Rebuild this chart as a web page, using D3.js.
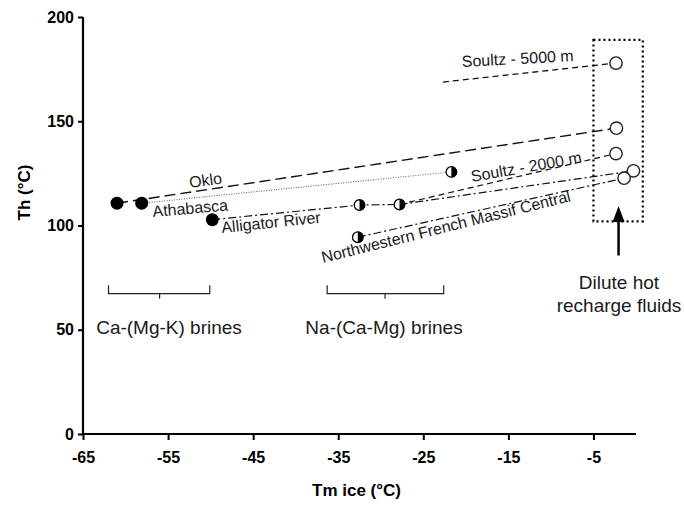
<!DOCTYPE html>
<html><head><meta charset="utf-8">
<script src="https://cdn.jsdelivr.net/npm/d3@7"></script>
<style>body{margin:0;background:#fff}svg{display:block}text{font-family:"Liberation Sans",Arial,sans-serif}</style>
</head><body>
<script>
// ---- data ----
const xTicks = [-65, -55, -45, -35, -25, -15, -5];
const yTicks = [0, 50, 100, 150, 200];
// Ca-(Mg-K) brines (filled)
const caX = [-61.0, -58.1, -49.8];
const caY = [110.7, 110.7, 102.8];
// Na-(Ca-Mg) brines (half filled)
const naX = [-21.7, -32.5, -27.8, -32.7];
const naY = [125.7, 109.8, 110.1, 94.4];
// dilute hot recharge fluids (open)
const diX = [-2.35, -2.3, -2.35, -0.3, -1.4];
const diY = [177.9, 146.7, 134.5, 126.2, 122.7];
// trend lines
const lineLong   = [[-61.0, 110.7], [-2.3, 146.7]];
const lineOklo   = [[-58.1, 110.7], [-21.7, 125.7]];
const lineAllig  = [[-49.8, 102.8], [-32.5, 109.8], [-27.8, 110.1]];
const lineS2000  = [[-27.8, 110.1], [-2.35, 134.5]];
const lineDD     = [[-27.8, 110.1], [-0.3, 126.2]];
const lineNW     = [[-32.7, 94.4], [-1.4, 122.7]];
const lineS5000  = [[-22.7, 168.8], [-2.35, 177.9]];
// box and brackets
const boxX = [-5.0, 0.8], boxY = [102.0, 189.0];
const arrowX = -2.05, arrowY = [85.6, 109.4];
const bracketCa = [-62.0, -56.0, -50.1];
const bracketNa = [-36.3, -29.5, -22.6];
const bracketY = [71.3, 67.3, 64.9];

const W = 684, H = 508;
const svg = d3.select("body").append("svg").attr("width", W).attr("height", H);
const x = d3.scaleLinear().domain([-65, 0]).range([83, 636]);
const y = d3.scaleLinear().domain([0, 200]).range([434, 17]);

// axes
const xAxis = d3.axisBottom(x).tickValues(xTicks).tickSize(6).tickFormat(d => String(d));
const yAxis = d3.axisLeft(y).tickValues(yTicks).tickSize(5).tickFormat(d => String(d));
const gx = svg.append("g").attr("transform", `translate(0,${y(0)})`).call(xAxis);
const gy = svg.append("g").attr("transform", `translate(${x(-65)},0)`).call(yAxis);
[gx, gy].forEach(g => {
  g.select(".domain").attr("stroke", "#000").attr("stroke-width", 2.2);
  g.selectAll(".tick line").attr("stroke", "#000").attr("stroke-width", 2);
  g.selectAll(".tick text").attr("font-size", 16).attr("font-weight", "bold").attr("fill", "#000")
    .style("font-family", "'Liberation Sans',Arial,sans-serif");
});
gx.select(".domain").attr("d", `M${x(-65)},0H${x(0)}`);
gy.select(".domain").attr("d", `M0,${y(0)}V${y(200)}`);
gx.selectAll(".tick text").attr("y", 18);
gy.selectAll(".tick text").attr("x", -9);

svg.append("text").attr("x", (x(-65) + x(0)) / 2 - 3).attr("y", 496).attr("text-anchor", "middle")
  .attr("font-size", 17).attr("font-weight", "bold").text("Tm ice (°C)");
svg.append("text").attr("transform", `translate(30,${y(100) - 33}) rotate(-90)`).attr("text-anchor", "middle")
  .attr("font-size", 17).attr("font-weight", "bold").text("Th (°C)");

// lines
const line = d3.line().x(d => x(d[0])).y(d => y(d[1]));
function drawLine(data, dash, color, w) {
  svg.append("path").attr("d", line(data)).attr("fill", "none")
    .attr("stroke", color).attr("stroke-width", w).attr("stroke-dasharray", dash);
}
drawLine(lineLong, "11,5", "#111", 1.4);
drawLine(lineOklo, "1,1.5", "#666", 1.1);
drawLine(lineAllig, "8,3,2,3", "#111", 1.2);
drawLine(lineS2000, "6,4", "#111", 1.2);
drawLine(lineDD, "8,3,2,3", "#111", 1.2);
drawLine(lineNW, "8,3,2,3", "#111", 1.2);
drawLine(lineS5000, "6,4", "#111", 1.3);

// dotted box
svg.append("rect").attr("x", x(boxX[0])).attr("y", y(boxY[1]))
  .attr("width", x(boxX[1]) - x(boxX[0])).attr("height", y(boxY[0]) - y(boxY[1]))
  .attr("fill", "none").attr("stroke", "#000").attr("stroke-width", 2.2).attr("stroke-dasharray", "2,3");

// arrow
svg.append("line").attr("x1", x(arrowX)).attr("x2", x(arrowX)).attr("y1", y(arrowY[0])).attr("y2", y(arrowY[1]) + 12)
  .attr("stroke", "#000").attr("stroke-width", 2.5);
svg.append("path").attr("d", `M${x(arrowX)},${y(arrowY[1])}l-6,16h12z`).attr("fill", "#000");

// points
const caPts = caX.map((d, i) => [d, caY[i]]);
const naPts = naX.map((d, i) => [d, naY[i]]);
const diPts = diX.map((d, i) => [d, diY[i]]);
svg.selectAll(".ca").data(caPts).enter().append("circle")
  .attr("cx", d => x(d[0])).attr("cy", d => y(d[1])).attr("r", 6.5).attr("fill", "#000");
const gna = svg.selectAll(".na").data(naPts).enter().append("g")
  .attr("transform", d => `translate(${x(d[0])},${y(d[1])})`);
gna.append("circle").attr("r", 5.3).attr("fill", "#fff").attr("stroke", "#000").attr("stroke-width", 1.3);
gna.append("path").attr("d", d3.arc()({innerRadius: 0, outerRadius: 5.6, startAngle: 0, endAngle: Math.PI})).attr("fill", "#000");
svg.selectAll(".di").data(diPts).enter().append("circle")
  .attr("cx", d => x(d[0])).attr("cy", d => y(d[1])).attr("r", 6.2)
  .attr("fill", "#fff").attr("stroke", "#222").attr("stroke-width", 1.4);

// brackets
function bracket(b) {
  const p = d3.path();
  p.moveTo(x(b[0]), y(bracketY[0])); p.lineTo(x(b[0]), y(bracketY[1]));
  p.lineTo(x(b[2]), y(bracketY[1])); p.lineTo(x(b[2]), y(bracketY[0]));
  p.moveTo(x(b[1]), y(bracketY[1])); p.lineTo(x(b[1]), y(bracketY[2]));
  svg.append("path").attr("d", p.toString()).attr("fill", "none").attr("stroke", "#222").attr("stroke-width", 1.2);
}
bracket(bracketCa); bracket(bracketNa);

// labels
function label(t, px, py, ang, size, anchor) {
  svg.append("text").attr("transform", `translate(${px},${py}) rotate(${ang})`)
    .attr("font-size", size).attr("fill", "#1a1a1a").attr("text-anchor", anchor || "start").text(t);
}
label("Oklo", 190, 188, -8, 16);
label("Athabasca", 153, 217, -5, 16);
label("Alligator River", 222, 233, -6, 16);
label("Northwestern  French Massif Central", 323, 263, -14, 16);
label("Soultz - 2000 m", 472, 182, -10, 16);
label("Soultz - 5000 m", 462, 67, -3, 16);
label("Ca-(Mg-K) brines", 169, 334, 0, 19, "middle");
label("Na-(Ca-Mg) brines", 384, 334, 0, 19, "middle");
label("Dilute hot", 619, 289, 0, 19, "middle");
label("recharge fluids", 619, 312, 0, 19, "middle");
</script>
</body></html>
